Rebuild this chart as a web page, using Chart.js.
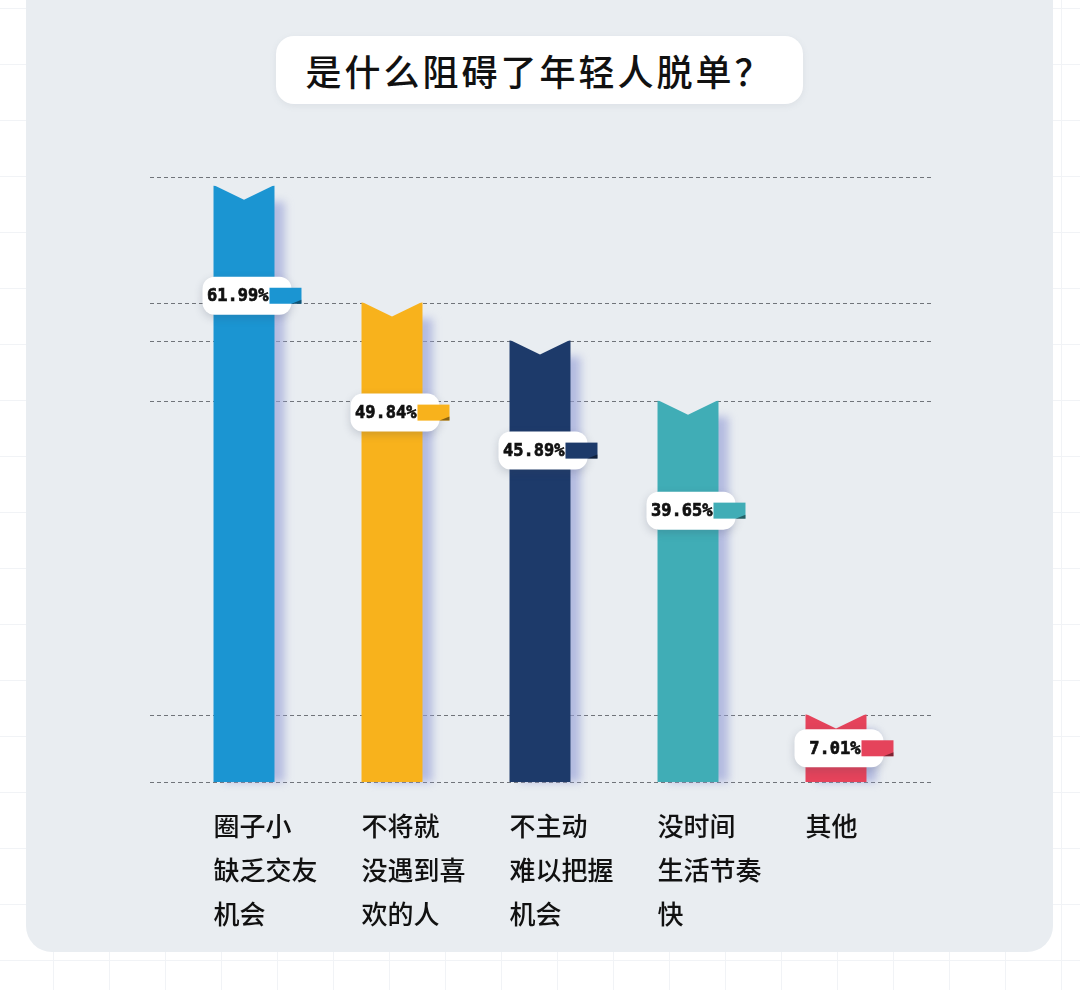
<!DOCTYPE html>
<html>
<head>
<meta charset="utf-8">
<script src="https://cdn.jsdelivr.net/npm/chart.js@4.4.0/dist/chart.umd.min.js"></script>
<style>
  html, body { margin: 0; padding: 0; }
  body {
    width: 1080px; height: 990px; position: relative; overflow: hidden;
    background-color: #fff;
    background-image: linear-gradient(#f1f3f6 1px, transparent 1px),
                      linear-gradient(90deg, #f1f3f6 1px, transparent 1px);
    background-size: 56px 56px;
    background-position: -3px 8px;
  }
  #panel {
    position: absolute; left: 26px; top: -40px; width: 1027px; height: 992px;
    background: #e9edf1; border-radius: 26px;
  }
  #title {
    position: absolute; left: 276px; top: 36px; width: 527px; height: 68px;
    background: #fff; border-radius: 18px;
    box-shadow: 0 2px 6px rgba(120, 130, 150, 0.12);
    font-family: "Noto Sans CJK SC", sans-serif; font-weight: 500;
    font-size: 36px; letter-spacing: 3px; color: #111;
    display: flex; align-items: center; justify-content: center;
  }
  #c { position: absolute; left: 0; top: 0; }
</style>
</head>
<body>
<div id="panel"></div>
<div id="title">是什么阻碍了年轻人脱单？</div>
<canvas id="c" width="1080" height="990"></canvas>
<script>
// data
const categories = [
  ["圈子小", "缺乏交友", "机会"],
  ["不将就", "没遇到喜", "欢的人"],
  ["不主动", "难以把握", "机会"],
  ["没时间", "生活节奏", "快"],
  ["其他"]
];
const shares = [61.99, 49.84, 45.89, 39.65, 7.01];
const barColors = ["#1b95d2", "#f8b21c", "#1d3a6a", "#40adb6", "#e5435b"];
const yMax = 62.9;

const PANEL = "#e9edf1";

// dashed lines, bar shadows, notched tops and value tags
const ribbonBars = {
  id: "ribbonBars",
  beforeDatasetsDraw(chart) {
    const ctx = chart.ctx;
    const y = chart.scales.y;
    const area = chart.chartArea;
    const top = Math.max(...shares);

    ctx.save();
    ctx.strokeStyle = "#70747a";
    ctx.lineWidth = 1;
    ctx.setLineDash([4, 3]);
    // the tallest bar gets the frame line at the top instead of its own
    [0, ...shares.filter(v => v < top), yMax].forEach(v => {
      const py = Math.round(y.getPixelForValue(v)) + 0.5;
      ctx.beginPath();
      ctx.moveTo(area.left - 20, py);
      ctx.lineTo(area.right + 22, py);
      ctx.stroke();
    });
    ctx.restore();

    chart.getDatasetMeta(0).data.forEach(bar => {
      const left = bar.x - bar.width / 2;
      ctx.save();
      ctx.filter = "blur(4px)";
      ctx.fillStyle = "rgba(150, 160, 215, 0.65)";
      ctx.fillRect(left + 10, bar.y + 16, bar.width, bar.base - bar.y - 16);
      ctx.restore();
    });
  },
  afterDatasetsDraw(chart) {
    const ctx = chart.ctx;
    chart.getDatasetMeta(0).data.forEach((bar, i) => {
      const left = bar.x - bar.width / 2;
      const right = bar.x + bar.width / 2;

      // V notch on top
      ctx.save();
      ctx.fillStyle = PANEL;
      ctx.beginPath();
      ctx.moveTo(left - 0.5, bar.y - 1);
      ctx.lineTo(bar.x, bar.y + 14);
      ctx.lineTo(right + 0.5, bar.y - 1);
      ctx.closePath();
      ctx.fill();
      ctx.restore();

      // value tag
      const cy = Math.min(bar.y + 110, (bar.y + bar.base) / 2);
      ctx.save();
      ctx.shadowColor = "rgba(60, 70, 90, 0.22)";
      ctx.shadowBlur = 8;
      ctx.shadowOffsetY = 3;
      ctx.fillStyle = "#fff";
      ctx.beginPath();
      ctx.roundRect(left - 11, cy - 19, bar.width + 28, 38, 12);
      ctx.fill();
      ctx.restore();

      ctx.save();
      ctx.fillStyle = barColors[i];
      ctx.fillRect(right - 5, cy - 8, 32, 16);
      ctx.fillStyle = "rgba(0, 0, 0, 0.45)";
      ctx.beginPath();
      ctx.moveTo(right + 17, cy + 8);
      ctx.lineTo(right + 27, cy + 4);
      ctx.lineTo(right + 27, cy + 8);
      ctx.closePath();
      ctx.fill();

      ctx.fillStyle = "#111";
      ctx.strokeStyle = "#111";
      ctx.lineWidth = 0.7;
      ctx.font = 'bold 17px "DejaVu Sans Mono"';
      ctx.textAlign = "right";
      ctx.textBaseline = "middle";
      const txt = shares[i].toFixed(2) + "%";
      ctx.fillText(txt, right - 6, cy + 1);
      ctx.strokeText(txt, right - 6, cy + 1);
      ctx.restore();
    });
  }
};

new Chart(document.getElementById("c"), {
  type: "bar",
  data: {
    labels: categories,
    datasets: [{
      data: shares,
      backgroundColor: barColors,
      borderWidth: 0,
      categoryPercentage: 1,
      barPercentage: 0.412
    }]
  },
  options: {
    responsive: false,
    animation: false,
    devicePixelRatio: 1,
    layout: { padding: { left: 170, right: 170, top: 177, bottom: 58 } },
    plugins: { legend: { display: false }, tooltip: { enabled: false } },
    scales: {
      y: { display: false, min: 0, max: yMax },
      x: {
        grid: { display: false, drawTicks: false },
        border: { display: false },
        afterFit(scale) { scale.height = 150; },
        ticks: {
          align: "start",
          labelOffset: -30.5,
          padding: 22,
          color: "#111",
          font: { family: '"Noto Sans CJK SC"', size: 26, weight: "500", lineHeight: "44px" }
        }
      }
    }
  },
  plugins: [ribbonBars]
});
</script>
</body>
</html>
